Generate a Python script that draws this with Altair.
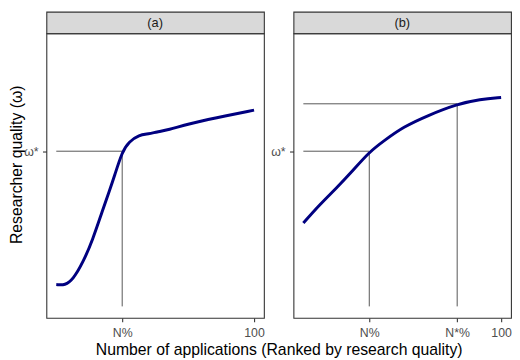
import altair as alt
import pandas as pd

# ---- data ----
a_x = [1, 5.4, 9.4, 14.3, 19.2, 24.1, 27.6, 30.1, 34, 37.4, 42.4, 47.3, 51.2, 57.1, 67, 80.3, 100]
a_y = [11.6, 11.3, 13.4, 19.2, 27.1, 37.3, 44.2, 49.3, 57.9, 61.3, 63.7, 64.0, 64.7, 65.4, 67.5, 69.5, 72.3]
b_x = [1, 9, 17.3, 25.5, 33.7, 41.9, 50.9, 63.2, 78, 89.5, 100]
b_y = [33.0, 39.3, 45.0, 51.0, 57.6, 61.9, 66.4, 70.4, 74.4, 76.1, 76.7]

N_pct = 34
N_star_pct = 78
omega_star = 58
omega_n_star = 74.5
seg_start = 1
seg_floor = 4

a_ticks = [N_pct, 100]
b_ticks = [N_pct, N_star_pct, 100]
tick_names = ["N%", "N*%", "100"]
tick_vals = [N_pct, N_star_pct, 100]
y_ticks = [omega_star]
y_tick_name = "ω*"
panel_labels = ["(a)", "(b)"]
x_title = "Number of applications (Ranked by research quality)"
y_title = "Researcher quality (ω)"

FONT = "Liberation Sans"
W, H, STRIP_H = 221, 289, 22
X_DOM = [-3.95, 104.95]
Y_DOM = [0, 99]

label_expr = " : ".join(
    f"datum.value == {v} ? '{n}'" for v, n in zip(tick_vals[:-1], tick_names[:-1])
) + f" : '{tick_names[-1]}'"
y_label_expr = f"'{y_tick_name}'"

xs = alt.Scale(domain=X_DOM, nice=False, zero=False)
ys = alt.Scale(domain=Y_DOM, nice=False, zero=False)


def segments(pairs):
    rows = []
    for xv, yv in pairs:
        rows.append({"x": seg_start, "x2": xv, "y": yv, "y2": yv})
        rows.append({"x": xv, "x2": xv, "y": seg_floor, "y2": yv})
    return pd.DataFrame(rows)


def panel(xv, yv, pairs, ticks, first):
    curve = pd.DataFrame({"x": xv, "y": yv})
    if first:
        xaxis = alt.Axis(values=ticks, labelExpr=label_expr, title=x_title,
                         titleX=236, titleY=37, titleAlign="center",
                         titleBaseline="alphabetic")
        yaxis = alt.Axis(values=y_ticks, labelExpr=y_label_expr, title=y_title,
                         titleAngle=270, titleX=-25, titleY=133,
                         titleAlign="center", titleBaseline="alphabetic")
    else:
        xaxis = alt.Axis(values=ticks, labelExpr=label_expr, title=None)
        yaxis = alt.Axis(values=y_ticks, labelExpr=y_label_expr, title=None)
    line = alt.Chart(curve).mark_line(
        color="#000080", strokeWidth=3, interpolate="basis"
    ).encode(
        x=alt.X("x:Q", scale=xs, axis=xaxis),
        y=alt.Y("y:Q", scale=ys, axis=yaxis),
    )
    rules = alt.Chart(segments(pairs)).mark_rule(color="#555555", strokeWidth=1).encode(
        x="x:Q", x2="x2:Q", y="y:Q", y2="y2:Q"
    )
    return alt.layer(rules, line).properties(width=W, height=H)


def strip(label):
    return alt.Chart(pd.DataFrame({"label": [label]})).mark_text(
        fontSize=13, font=FONT, color="#1a1a1a", baseline="middle", align="center"
    ).encode(
        text="label:N", x=alt.value(W / 2), y=alt.value(STRIP_H / 2)
    ).properties(width=W, height=STRIP_H,
                 view=alt.ViewBackground(fill="#d9d9d9", stroke="#333333", strokeWidth=1.1))


pa = panel(a_x, a_y, [(N_pct, omega_star)], a_ticks, True)
pb = panel(b_x, b_y, [(N_pct, omega_star), (N_star_pct, omega_n_star)], b_ticks, False)

chart = alt.concat(
    strip(panel_labels[0]), strip(panel_labels[1]), pa, pb,
    columns=2, spacing=alt.RowColnumber(row=0, column=30), bounds="flush",
).properties(
    padding=0
).configure_view(
    stroke="#333333", strokeWidth=1.1
).configure_axis(
    grid=False, domain=False, ticks=True, tickSize=4, tickColor="#333333", tickWidth=1.1,
    labelFont=FONT, labelFontSize=12.5, labelColor="#4d4d4d", labelPadding=4.5,
    titleFont=FONT, titleFontSize=16, titleFontWeight="normal", titleColor="#000000",
)

chart.save("out.html", embed_options={"renderer": "svg", "actions": False})
